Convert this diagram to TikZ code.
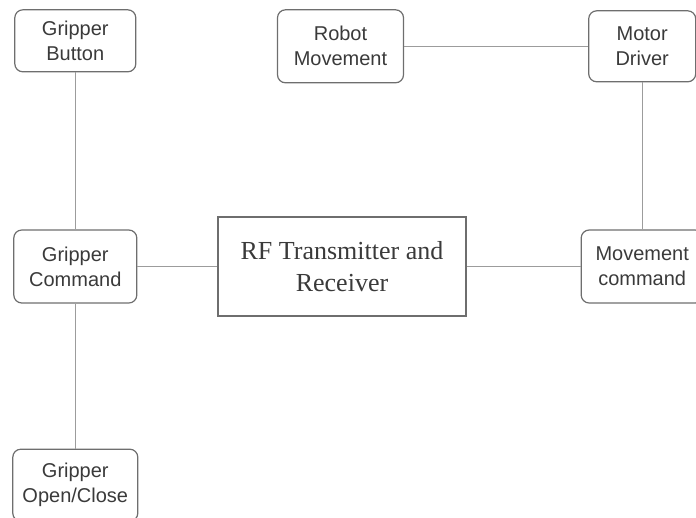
\documentclass[tikz,border=0pt]{standalone}
\usepackage{fontspec}
\setmainfont{Liberation Serif}
\setsansfont{Liberation Sans}
\usetikzlibrary{positioning}
\definecolor{boxgray}{HTML}{6E6E6E}
\definecolor{linegray}{HTML}{9C9C9C}
\definecolor{txtgray}{HTML}{3A3A3A}

\begin{document}
\begin{tikzpicture}[x=1pt,y=-1pt,line width=1.2pt,
  block/.style={draw=boxgray,rounded corners=8pt,align=center,text=txtgray,
    inner sep=0pt,font=\sffamily\fontsize{20}{25}\selectfont},
  link/.style={draw=linegray}]
  \useasboundingbox (0,0) rectangle (696,517);
  \clip (0,0) rectangle (696,517);
  \node[draw=boxgray,minimum width=248pt,minimum height=99pt,align=center,text=txtgray,
    font=\fontsize{26}{32}\selectfont](rf) at (342,266.5) {RF Transmitter and\\Receiver};
  \node[block,minimum width=123pt,minimum height=73pt,left=80pt of rf](gcmd) {Gripper\\Command};
  \node[block,minimum width=122pt,minimum height=73pt,right=114pt of rf](mcmd) {Movement\\command};
  \node[block,minimum width=121pt,minimum height=62pt,above=157pt of gcmd](gbtn) {Gripper\\Button};
  \node[block,minimum width=125pt,minimum height=72pt,below=145pt of gcmd](gopen) {Gripper\\Open/Close};
  \node[block,minimum width=107pt,minimum height=71pt,above=147pt of mcmd](mdrv) {Motor\\Driver};
  \node[block,minimum width=126pt,minimum height=73pt,left=184pt of mdrv](rmov) {Robot\\Movement};
  \draw[link] (gbtn)--(gcmd);
  \draw[link] (gcmd)--(gopen);
  \draw[link] (gcmd)--(rf);
  \draw[link] (rf)--(mcmd);
  \draw[link] (mcmd)--(mdrv);
  \draw[link] (mdrv)--(rmov);
\end{tikzpicture}
\end{document}
